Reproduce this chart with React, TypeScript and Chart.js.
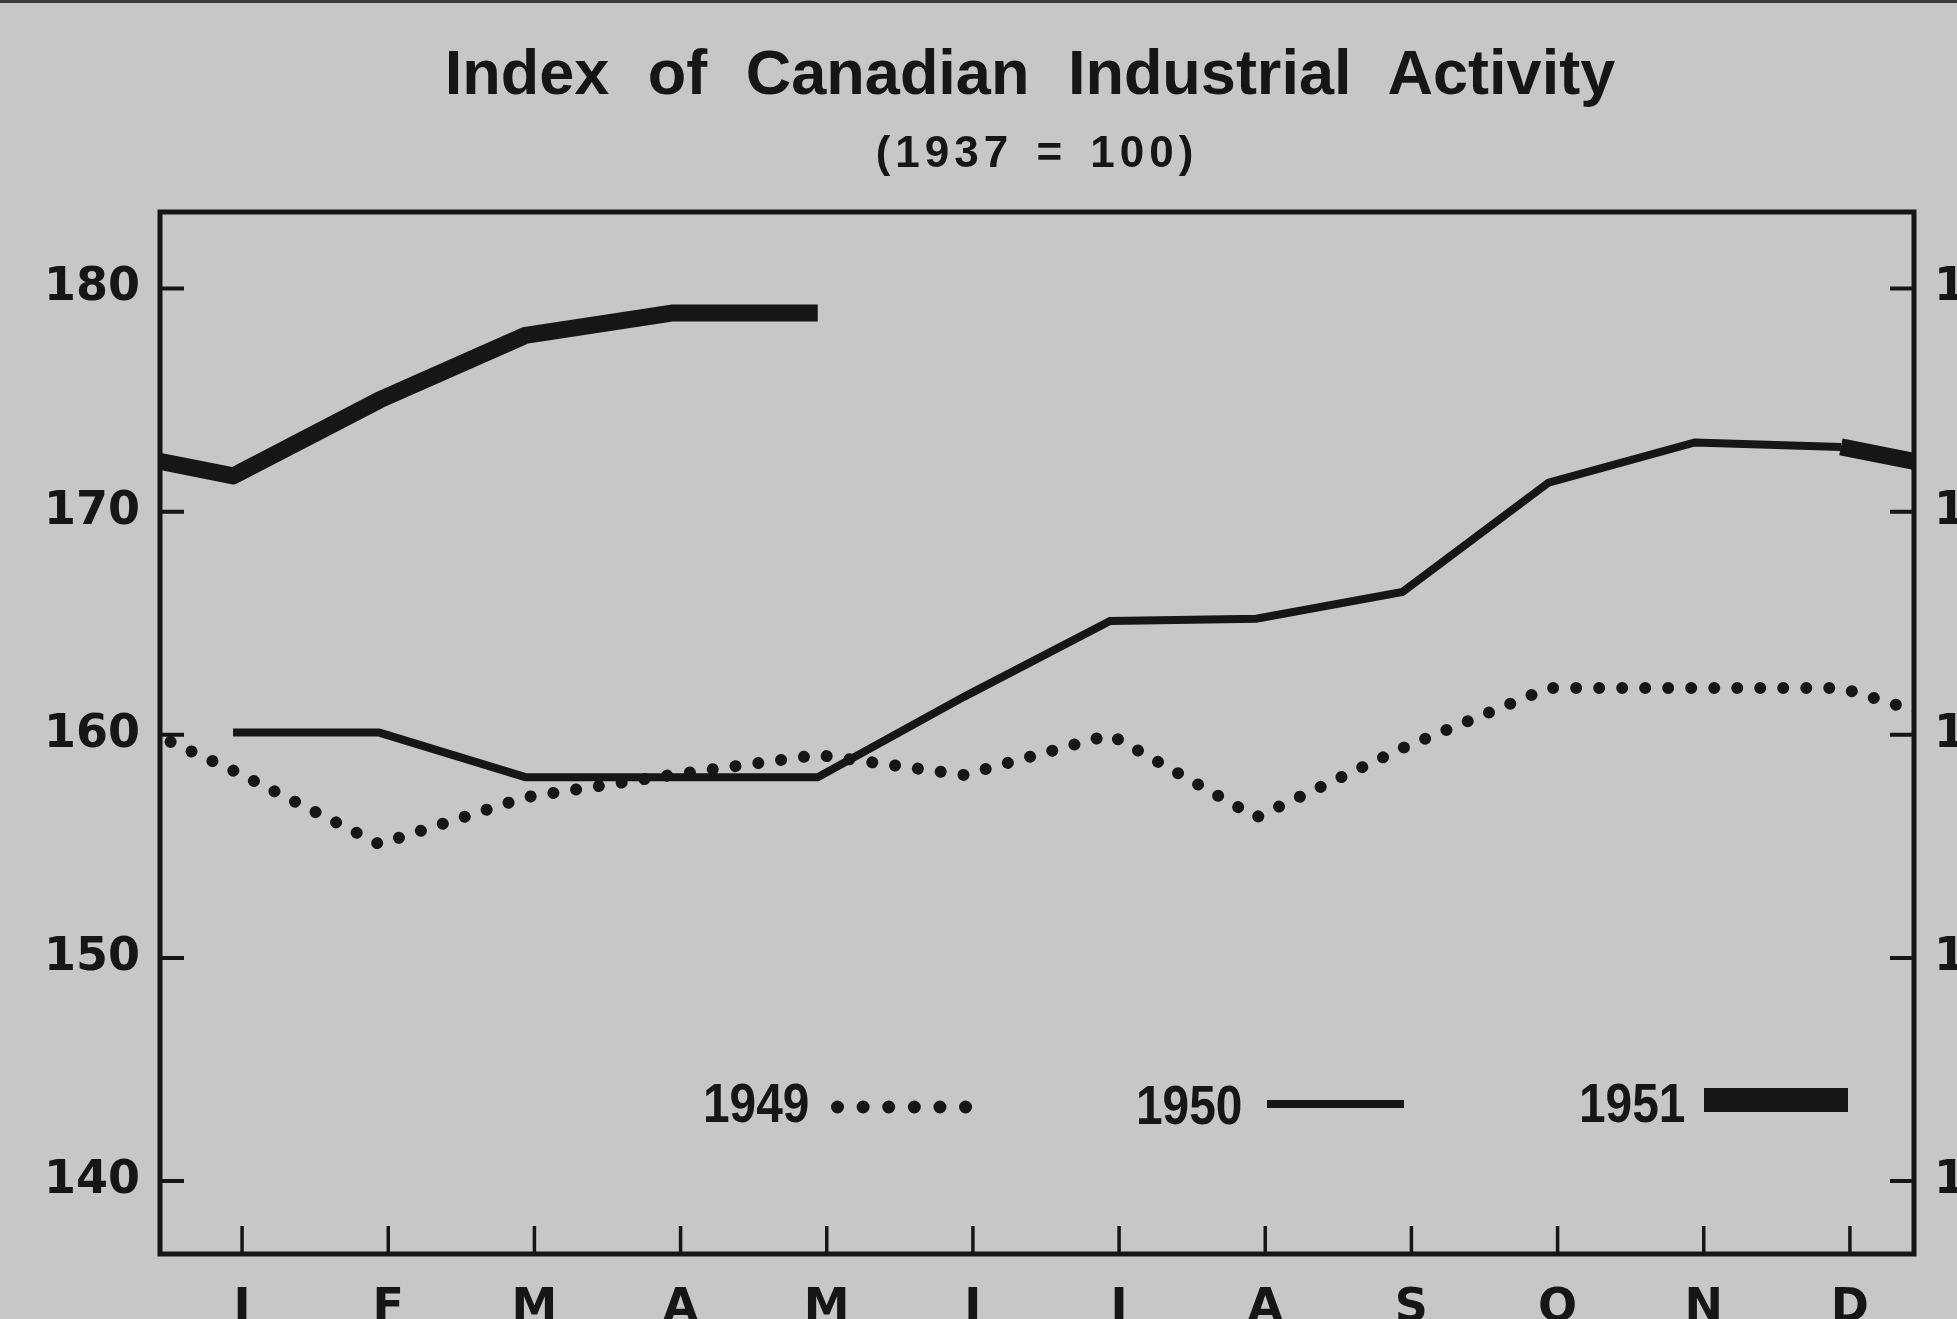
import React, { useEffect, useRef } from "react";
import { Chart, registerables } from "chart.js";

Chart.register(...registerables);

// ---- data ----
const months = ["J", "F", "M", "A", "M", "J", "J", "A", "S", "O", "N", "D"];
const yTickValues = [140, 150, 160, 170, 180];
const dec1948 = 161.4;
const index1949 = [158.4, 155.1, 157.2, 158.2, 159.1, 158.2, 160.0, 156.3, 159.4, 162.1, 162.1, 162.1];
const index1950 = [160.1, 160.1, 158.1, 158.1, 158.1, 161.7, 165.1, 165.2, 166.4, 171.3, 173.1, 172.9];
const index1951 = [171.6, 175.0, 177.9, 178.9, 178.9];
const legendYears = ["1949", "1950", "1951"];

const INK = "#161616";
const PAPER = "rgb(199,199,199)";
const FONT = "'Liberation Sans', Arial, sans-serif";
const TICK_FONT = "'DejaVu Sans', 'Liberation Sans', sans-serif";
const TICK_SHIFT = 9;

const CW = 2050;
const CH = 1400;

const pts = (vals: number[], startX: number) => vals.map((v, i) => ({ x: startX + i, y: v }));

export default function App() {
  const ref = useRef<HTMLCanvasElement | null>(null);

  useEffect(() => {
    if (!ref.current) return;
    const framePlugin = {
      id: "frameTicks",
      afterDatasetsDraw(chart: any) {
        const { ctx, chartArea } = chart;
        const { left, right, top, bottom } = chartArea;
        const xs = chart.scales.x;
        const ys = chart.scales.y;
        ctx.save();
        ctx.strokeStyle = INK;
        ctx.lineCap = "butt";
        ctx.lineWidth = 5;
        ctx.strokeRect(left, top, right - left, bottom - top);
        ctx.lineWidth = 4;
        yTickValues.forEach((v) => {
          const py = ys.getPixelForValue(v);
          ctx.beginPath();
          ctx.moveTo(left, py);
          ctx.lineTo(left + 24, py);
          ctx.moveTo(right - 24, py);
          ctx.lineTo(right, py);
          ctx.stroke();
        });
        ctx.lineWidth = 3.5;
        months.forEach((_, i) => {
          const px = xs.getPixelForValue(i + 1) + TICK_SHIFT;
          ctx.beginPath();
          ctx.moveTo(px, bottom);
          ctx.lineTo(px, bottom - 28);
          ctx.stroke();
        });
        ctx.restore();
      },
    };

    const tickFont = { family: TICK_FONT, size: 46, weight: "bold" as const };

    const chart = new Chart(ref.current, {
      type: "line",
      data: {
        datasets: [
          {
            label: "1950",
            data: pts(index1950, 1),
            borderColor: INK,
            borderWidth: 8,
            pointRadius: 0,
            fill: false,
            tension: 0,
            clip: 0,
          },
          {
            label: "1949",
            data: [{ x: 0, y: dec1948 }, ...pts(index1949, 1), { x: 13, y: index1950[0] }],
            borderColor: INK,
            borderWidth: 12,
            borderDash: [0.01, 23],
            borderCapStyle: "round",
            pointRadius: 0,
            fill: false,
            tension: 0,
            clip: 0,
          },
          {
            label: "1951",
            data: [{ x: 0, y: index1950[11] }, ...pts(index1951, 1)],
            borderColor: INK,
            borderWidth: 17,
            borderJoinStyle: "round",
            pointRadius: 0,
            fill: false,
            tension: 0,
            clip: 0,
          },
          {
            label: "1951 (from Dec 1950)",
            data: [
              { x: 12, y: index1950[11] },
              { x: 13, y: index1951[0] },
            ],
            borderColor: INK,
            borderWidth: 17,
            pointRadius: 0,
            fill: false,
            tension: 0,
            clip: 0,
          },
        ],
      },
      options: {
        animation: false,
        responsive: false,
        devicePixelRatio: 1,
        layout: { padding: { top: 212, left: 0, right: 0, bottom: 0 } },
        plugins: {
          legend: { display: false },
          title: { display: false },
          tooltip: { enabled: false },
        },
        scales: {
          x: {
            type: "linear",
            min: 0.5,
            max: 12.5,
            grid: { display: false, drawTicks: false },
            border: { display: false },
            afterBuildTicks: (s: any) => {
              s.ticks = months.map((_, i) => ({ value: i + 1 }));
            },
            afterFit: (s: any) => {
              s.height = CH - 1254;
            },
            ticks: {
              autoSkip: false,
              maxRotation: 0,
              padding: 27,
              labelOffset: TICK_SHIFT,
              color: INK,
              font: tickFont,
              callback: (v: any) => months[Math.round(Number(v)) - 1] ?? "",
            },
          },
          y: {
            type: "linear",
            position: "left",
            min: 136.73,
            max: 183.43,
            grid: { display: false, drawTicks: false },
            border: { display: false },
            afterBuildTicks: (s: any) => {
              s.ticks = yTickValues.map((v) => ({ value: v }));
            },
            afterFit: (s: any) => {
              s.width = 160;
            },
            ticks: { padding: 20, color: INK, font: tickFont },
          },
          y2: {
            type: "linear",
            position: "right",
            min: 136.73,
            max: 183.43,
            grid: { display: false, drawTicks: false },
            border: { display: false },
            afterBuildTicks: (s: any) => {
              s.ticks = yTickValues.map((v) => ({ value: v }));
            },
            afterFit: (s: any) => {
              s.width = CW - 1914;
            },
            ticks: { padding: 20, color: INK, font: tickFont },
          },
        },
      },
      plugins: [framePlugin],
    });
    return () => chart.destroy();
  }, []);

  const legendText: React.CSSProperties = {
    position: "absolute",
    fontFamily: FONT,
    fontWeight: "bold",
    fontSize: 55,
    lineHeight: 1,
    color: INK,
    transform: "scaleX(0.87)",
    transformOrigin: "left center",
    whiteSpace: "nowrap",
  };

  return (
    <div
      style={{
        position: "absolute",
        left: 0,
        top: 0,
        width: 1957,
        height: 1319,
        overflow: "hidden",
        background: PAPER,
      }}
    >
      <div style={{ position: "absolute", left: 0, top: 0, width: 1957, height: 3, background: "#3a3a3a" }} />
      <canvas ref={ref} width={CW} height={CH} style={{ position: "absolute", left: 0, top: 0, display: "block" }} />
      <div
        style={{
          position: "absolute",
          left: 0,
          width: 2060,
          top: 41,
          textAlign: "center",
          fontFamily: FONT,
          fontWeight: "bold",
          fontSize: 63,
          lineHeight: 1,
          wordSpacing: 21,
          color: INK,
          whiteSpace: "nowrap",
        }}
      >
        Index of Canadian Industrial Activity
      </div>
      <div
        style={{
          position: "absolute",
          left: 0,
          width: 2074,
          top: 130,
          textAlign: "center",
          fontFamily: FONT,
          fontWeight: "bold",
          fontSize: 44,
          lineHeight: 1,
          letterSpacing: 5,
          wordSpacing: 6,
          color: INK,
          whiteSpace: "nowrap",
        }}
      >
        (1937 = 100)
      </div>
      <div style={{ ...legendText, left: 703, top: 1076 }}>{legendYears[0]}</div>
      <div style={{ ...legendText, left: 1136, top: 1078 }}>{legendYears[1]}</div>
      <div style={{ ...legendText, left: 1579, top: 1076 }}>{legendYears[2]}</div>
      <svg style={{ position: "absolute", left: 0, top: 0 }} width={1957} height={1319}>
        <line x1={837.5} y1={1107} x2={966} y2={1107} stroke={INK} strokeWidth={13} strokeLinecap="round" strokeDasharray="0.01 25.6" />
        <line x1={1267} y1={1104} x2={1404} y2={1104} stroke={INK} strokeWidth={8} />
        <line x1={1704} y1={1100} x2={1848} y2={1100} stroke={INK} strokeWidth={24} />
      </svg>
    </div>
  );
}
